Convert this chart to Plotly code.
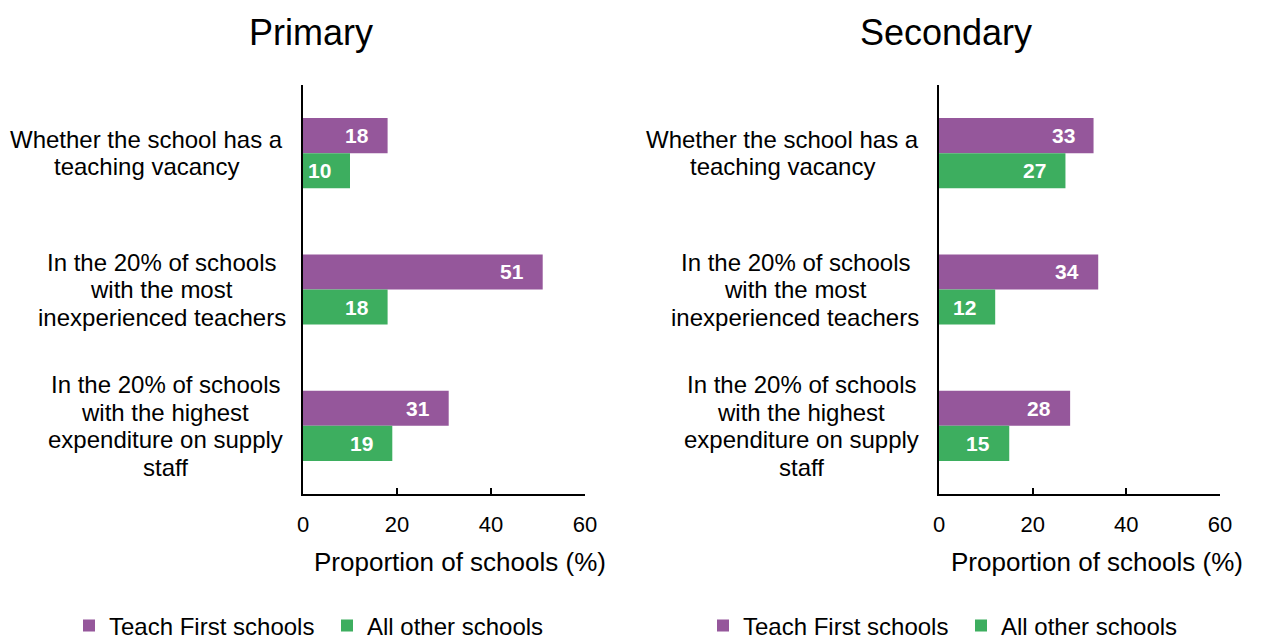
import plotly.graph_objects as go

# category labels, one list of lines per category
category_lines = [
    ["Whether the school has a", "teaching vacancy"],
    ["In the 20% of schools", "with the most", "inexperienced teachers"],
    ["In the 20% of schools", "with the highest", "expenditure on supply", "staff"],
]
primary_teach_first = [18, 51, 31]
primary_other = [10, 18, 19]
secondary_teach_first = [33, 34, 28]
secondary_other = [27, 12, 15]
x_ticks = [0, 20, 40, 60]
series_names = ["Teach First schools", "All other schools"]

PURPLE = "#95579B"
GREEN = "#3DAE5F"
FONT = "Liberation Sans, Arial, sans-serif"
W, H = 1261, 642
BARGAP = 0.485

keys = ["c0", "c1", "c2"]

fig = go.Figure()


def add_panel(tf, other, xa, ya, legend):
    for name, vals, color in zip(series_names, [tf, other], [PURPLE, GREEN]):
        fig.add_trace(go.Bar(
            y=keys, x=vals, orientation="h", name=name,
            marker=dict(color=color, line=dict(width=0)),
            xaxis=xa, yaxis=ya, legend=legend, hoverinfo="x+name",
        ))
    # value labels just inside the end of each bar
    half = (1 - BARGAP) / 4
    for offset, vals in [(-half, tf), (half, other)]:
        for i, v in enumerate(vals):
            fig.add_annotation(text=f"<b>{v}</b>", x=v, y=i + offset, xref=xa, yref=ya,
                               xshift=-17, xanchor="right", yanchor="middle", showarrow=False,
                               font=dict(family=FONT, size=21, color="white"))


add_panel(primary_teach_first, primary_other, "x", "y", "legend")
add_panel(secondary_teach_first, secondary_other, "x2", "y2", "legend2")

ydom = [1 - 494 / H, 1 - 85 / H]
xdom1 = [303 / W, 585 / W]
xdom2 = [939 / W, 1220 / W]

xcommon = dict(range=[0, 60], tickvals=x_ticks, ticks="inside", ticklen=6,
               tickcolor="black", tickwidth=1.5, showline=True, linecolor="black",
               linewidth=1.5, showgrid=False, zeroline=False, ticklabelstandoff=10,
               tickfont=dict(family=FONT, size=22, color="black"))
ycommon = dict(categoryorder="array", categoryarray=keys, autorange="reversed",
               showline=True, linecolor="black", linewidth=1.5, showticklabels=False,
               ticks="", showgrid=False, domain=ydom)

legend_common = dict(orientation="h", xanchor="center", y=1 - 626 / H, yanchor="middle",
                     font=dict(family=FONT, size=24, color="black"), traceorder="normal",
                     itemwidth=30, entrywidth=213, entrywidthmode="pixels",
                     bgcolor="rgba(0,0,0,0)")

fig.update_layout(
    width=W, height=H,
    margin=dict(l=0, r=0, t=0, b=0, autoexpand=False),
    plot_bgcolor="white", paper_bgcolor="white",
    barmode="group", bargap=BARGAP, bargroupgap=0,
    font=dict(family=FONT, color="black"),
    showlegend=True,
    xaxis=dict(domain=xdom1, anchor="y", **xcommon),
    yaxis=dict(anchor="x", **ycommon),
    xaxis2=dict(domain=xdom2, anchor="y2", **xcommon),
    yaxis2=dict(anchor="x2", **ycommon),
    legend=dict(x=327 / W, **legend_common),
    legend2=dict(x=961 / W, **legend_common),
)

# panel titles
for text, xc in [("Primary", 311), ("Secondary", 946)]:
    fig.add_annotation(text=text, x=xc / W, y=1 - 32 / H, xref="paper", yref="paper",
                       showarrow=False, xanchor="center", yanchor="middle",
                       font=dict(family=FONT, size=36, color="black"))

# x-axis titles
for xc in [460, 1097]:
    fig.add_annotation(text="Proportion of schools (%)", x=xc / W, y=1 - 562 / H,
                       xref="paper", yref="paper", showarrow=False,
                       xanchor="center", yanchor="middle",
                       font=dict(family=FONT, size=26, color="black"))

# category labels: centred lines, each block ending just left of the axis
LINE = 27.5
block_centres = {"y": [146, 162, 165], "y2": [782, 795, 801]}
for ya, centres in block_centres.items():
    for i, (lines, xc) in enumerate(zip(category_lines, centres)):
        n = len(lines)
        for j, line in enumerate(lines):
            fig.add_annotation(text=line, x=xc / W, y=i, xref="paper", yref=ya,
                               yshift=((n - 1) / 2 - j) * LINE,
                               showarrow=False, xanchor="center", yanchor="middle",
                               font=dict(family=FONT, size=24, color="black"))

fig.write_html("out.html")
